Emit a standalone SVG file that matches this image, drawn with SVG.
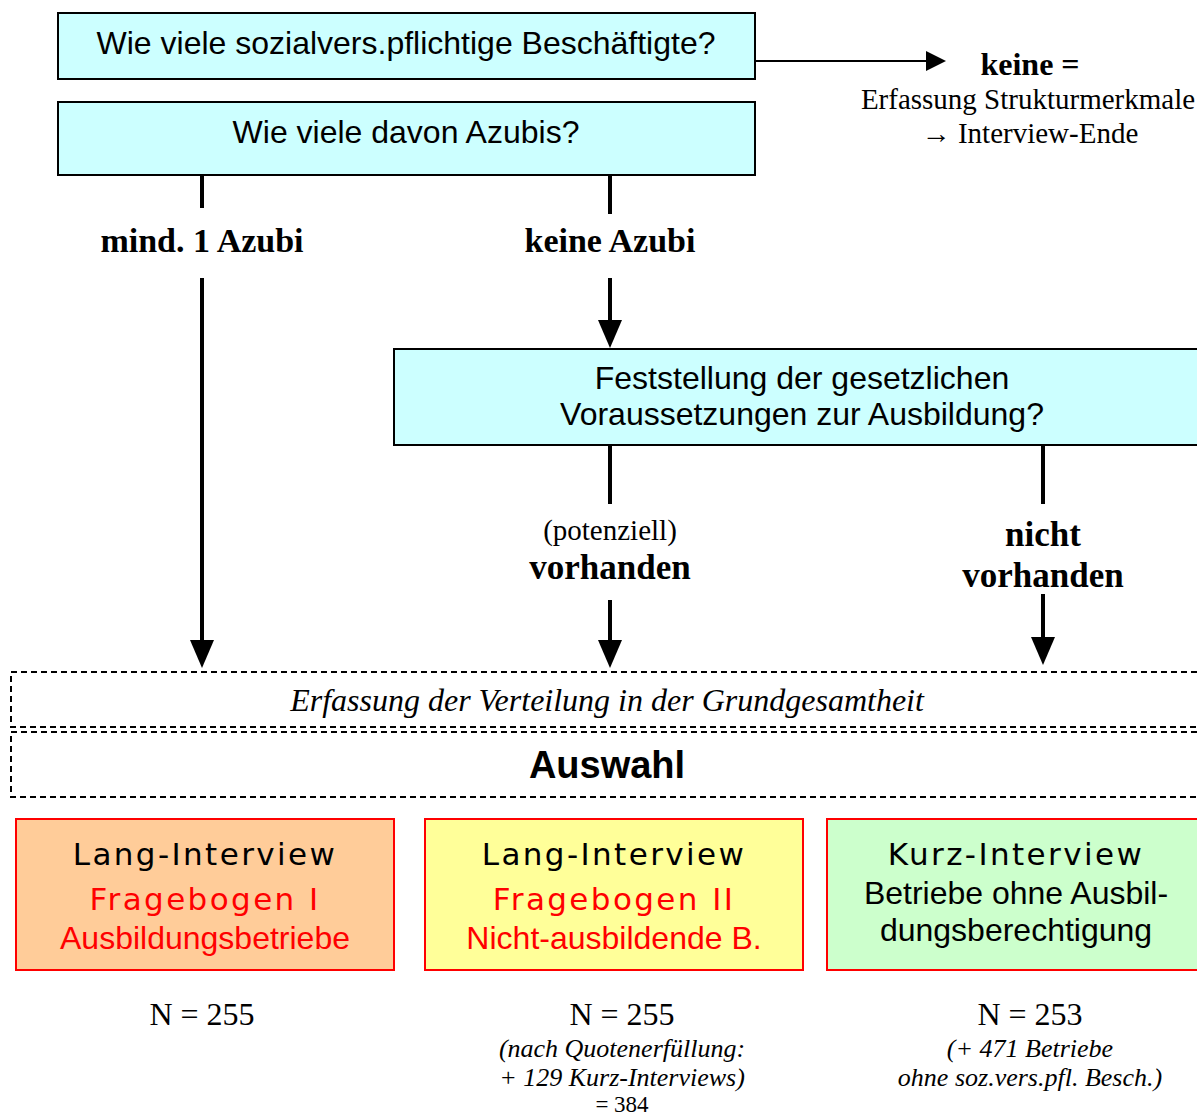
<svg xmlns="http://www.w3.org/2000/svg" width="1197" height="1119" viewBox="0 0 1197 1119">
<style>
.q{fill:#CCFFFF;stroke:#000;stroke-width:2}
.sans{font-family:"Liberation Sans",Arial,sans-serif}
.serif{font-family:"Liberation Serif","Times New Roman",serif}
.geo{font-family:"DejaVu Sans","Liberation Sans",sans-serif;letter-spacing:2.4px}
.ln{stroke:#000;stroke-width:4;fill:none}
.dash{fill:none;stroke:#000;stroke-width:2;stroke-dasharray:6,4}
.ar{fill:#000}
</style>
<rect width="1197" height="1119" fill="#fff"/>
<g id="q1">
<rect class="q" x="58" y="13" width="697" height="66"/>
<text class="sans" x="406" y="54" font-size="32" text-anchor="middle">Wie viele sozialvers.pflichtige Beschäftigte?</text>
</g>
<g id="q2">
<rect class="q" x="58" y="102" width="697" height="73"/>
<text class="sans" x="406" y="143" font-size="32" text-anchor="middle">Wie viele davon Azubis?</text>
</g>
<g id="end">
<text class="serif" x="1030" y="75" font-size="32" font-weight="bold" text-anchor="middle">keine =</text>
<text class="serif" x="1028" y="109" font-size="29" text-anchor="middle">Erfassung Strukturmerkmale</text>
<text class="serif" x="1030" y="143" font-size="29" text-anchor="middle"><tspan font-weight="bold">→</tspan> Interview-Ende</text>
</g>
<g id="q3">
<rect class="q" x="394" y="349" width="815" height="96"/>
<text class="sans" x="802" y="389" font-size="32" text-anchor="middle">Feststellung der gesetzlichen</text>
<text class="sans" x="802" y="425" font-size="32" text-anchor="middle">Voraussetzungen zur Ausbildung?</text>
</g>
<g id="erfassung">
<rect class="dash" x="11" y="672" width="1200" height="55"/>
<text class="serif" x="607" y="711" font-size="32" font-style="italic" text-anchor="middle">Erfassung der Verteilung in der Grundgesamtheit</text>
</g>
<g id="auswahl">
<rect class="dash" x="11" y="732" width="1200" height="65"/>
<text class="sans" x="607" y="778" font-size="38" font-weight="bold" text-anchor="middle">Auswahl</text>
</g>
<g id="langI">
<rect x="16" y="819" width="378" height="151" fill="#FFCC99" stroke="#FF0000" stroke-width="2"/>
<text class="geo" x="205" y="865" font-size="31" text-anchor="middle">Lang-Interview</text>
<text class="geo" x="205" y="910" font-size="31" fill="#FF0000" text-anchor="middle">Fragebogen I</text>
<text class="sans" x="205" y="949" font-size="32" fill="#FF0000" text-anchor="middle">Ausbildungsbetriebe</text>
</g>
<g id="langII">
<rect x="425" y="819" width="378" height="151" fill="#FFFF99" stroke="#FF0000" stroke-width="2"/>
<text class="geo" x="614" y="865" font-size="31" text-anchor="middle">Lang-Interview</text>
<text class="geo" x="614" y="910" font-size="31" fill="#FF0000" text-anchor="middle">Fragebogen II</text>
<text class="sans" x="614" y="949" font-size="32" fill="#FF0000" text-anchor="middle">Nicht-ausbildende B.</text>
</g>
<g id="kurz">
<rect x="827" y="819" width="380" height="151" fill="#CCFFCC" stroke="#FF0000" stroke-width="2"/>
<text class="geo" x="1016" y="865" font-size="31" text-anchor="middle">Kurz-Interview</text>
<text class="sans" x="1016" y="904" font-size="32" text-anchor="middle">Betriebe ohne Ausbil-</text>
<text class="sans" x="1016" y="941" font-size="32" text-anchor="middle">dungsberechtigung</text>
</g>
<g id="n1">
<text class="serif" x="202" y="1025" font-size="32" text-anchor="middle">N = 255</text>
</g>
<g id="n2">
<text class="serif" x="622" y="1025" font-size="32" text-anchor="middle">N = 255</text>
<text class="serif" x="622" y="1057" font-size="26" font-style="italic" text-anchor="middle">(nach Quotenerfüllung:</text>
<text class="serif" x="622" y="1086" font-size="26" font-style="italic" text-anchor="middle">+ 129 Kurz-Interviews)</text>
<text class="serif" x="622" y="1112" font-size="23" text-anchor="middle">= 384</text>
</g>
<g id="n3">
<text class="serif" x="1030" y="1025" font-size="32" text-anchor="middle">N = 253</text>
<text class="serif" x="1030" y="1057" font-size="26" font-style="italic" text-anchor="middle">(+ 471 Betriebe</text>
<text class="serif" x="1030" y="1086" font-size="26" font-style="italic" text-anchor="middle">ohne soz.vers.pfl. Besch.)</text>
</g>
<g id="connectors">
<line x1="755" y1="61" x2="928" y2="61" stroke="#000" stroke-width="2"/>
<polygon class="ar" points="926,51 946,61 926,71"/>
<line class="ln" x1="202" y1="175" x2="202" y2="208"/>
<text class="serif" x="202" y="252" font-size="34" font-weight="bold" text-anchor="middle">mind. 1 Azubi</text>
<line class="ln" x1="202" y1="278" x2="202" y2="645"/>
<polygon class="ar" points="190,640 214,640 202,668"/>
<line class="ln" x1="610" y1="175" x2="610" y2="214"/>
<text class="serif" x="610" y="252" font-size="34" font-weight="bold" text-anchor="middle">keine Azubi</text>
<line class="ln" x1="610" y1="278" x2="610" y2="325"/>
<polygon class="ar" points="598,320 622,320 610,348"/>
<line class="ln" x1="610" y1="445" x2="610" y2="504"/>
<text class="serif" x="610" y="540" font-size="29" text-anchor="middle">(potenziell)</text>
<text class="serif" x="610" y="579" font-size="35" font-weight="bold" text-anchor="middle">vorhanden</text>
<line class="ln" x1="610" y1="600" x2="610" y2="645"/>
<polygon class="ar" points="598,640 622,640 610,668"/>
<line class="ln" x1="1043" y1="445" x2="1043" y2="504"/>
<text class="serif" x="1043" y="546" font-size="35" font-weight="bold" text-anchor="middle">nicht</text>
<text class="serif" x="1043" y="587" font-size="35" font-weight="bold" text-anchor="middle">vorhanden</text>
<line class="ln" x1="1043" y1="594" x2="1043" y2="640"/>
<polygon class="ar" points="1031,637 1055,637 1043,665"/>
</g>
</svg>
